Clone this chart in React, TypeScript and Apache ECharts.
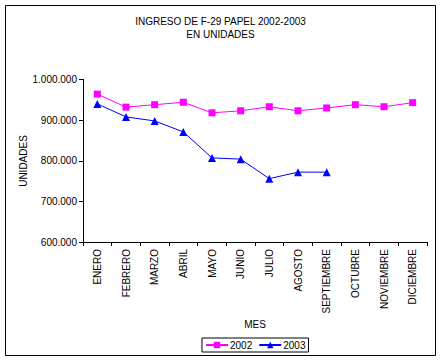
import React, { useEffect, useRef } from "react";
import * as echarts from "echarts";

const months = ["ENERO", "FEBRERO", "MARZO", "ABRIL", "MAYO", "JUNIO", "JULIO", "AGOSTO", "SEPTIEMBRE", "OCTUBRE", "NOVIEMBRE", "DICIEMBRE"];
const values2002 = [964000, 932000, 938000, 944000, 918000, 923000, 933000, 923000, 930000, 938000, 933000, 943000];
const values2003 = [940000, 908000, 898000, 871000, 807000, 804000, 756000, 772000, 772000, null, null, null];
const titleLines = ["INGRESO DE F-29 PAPEL 2002-2003", "EN UNIDADES"];
const yAxisName = "UNIDADES";
const xAxisName = "MES";

const FONT = "Liberation Sans, Arial, sans-serif";

function fmt(v: number): string {
  return String(Math.round(v)).replace(/\B(?=(\d{3})+(?!\d))/g, ".");
}

export default function App() {
  const ref = useRef<HTMLDivElement>(null);
  useEffect(() => {
    if (!ref.current) return;
    const chart = echarts.init(ref.current, null, { renderer: "svg" });
    chart.setOption({
      animation: false,
      backgroundColor: "#ffffff",
      textStyle: { fontFamily: FONT, color: "#000" },
      title: {
        text: titleLines.join("\n"),
        left: "center",
        top: 10,
        textStyle: { fontFamily: FONT, fontSize: 10, fontWeight: "normal", color: "#000", lineHeight: 13 },
      },
      graphic: [
        {
          type: "rect",
          shape: { x: 5.5, y: 5.5, width: 430, height: 350 },
          style: { fill: "none", stroke: "#000", lineWidth: 1 },
          silent: true,
        },
        {
          type: "text",
          x: 23,
          y: 161,
          rotation: Math.PI / 2,
          style: {
            text: yAxisName,
            fontFamily: FONT,
            fontSize: 10,
            fill: "#000",
            align: "center",
            verticalAlign: "middle",
          },
          silent: true,
        },
      ],
      legend: {
        left: 202,
        top: 338,
        itemWidth: 22,
        itemHeight: 8,
        itemGap: 6,
        padding: [2, 3, 2, 3],
        borderColor: "#000",
        borderWidth: 1,
        textStyle: { fontFamily: FONT, fontSize: 10, color: "#000", padding: [0, 0, 0, -3] },
        data: ["2002", "2003"],
      },
      grid: { left: 83, right: 14, top: 79.5, bottom: 120, containLabel: false },
      xAxis: {
        type: "category",
        data: months,
        name: xAxisName,
        nameLocation: "middle",
        nameGap: 77,
        nameTextStyle: { fontFamily: FONT, fontSize: 10, color: "#000" },
        axisLine: { lineStyle: { color: "#000", width: 1 } },
        axisTick: { show: true, length: 4, lineStyle: { color: "#000" } },
        axisLabel: { rotate: 90, fontFamily: FONT, fontSize: 10, color: "#000", margin: 7, interval: 0 },
        splitLine: { show: false },
      },
      yAxis: {
        type: "value",
        min: 600000,
        max: 1000000,
        interval: 100000,
        axisLine: { show: true, lineStyle: { color: "#000", width: 1 } },
        axisTick: { show: true, length: 4, lineStyle: { color: "#000" } },
        axisLabel: { fontFamily: FONT, fontSize: 10, color: "#000", margin: 6, formatter: (v: number) => fmt(v) },
        splitLine: { show: false },
      },
      series: [
        {
          name: "2002",
          type: "line",
          data: values2002,
          symbol: "rect",
          symbolSize: 7,
          itemStyle: { color: "#FF00FF" },
          lineStyle: { color: "#FF00FF", width: 1 },
        },
        {
          name: "2003",
          type: "line",
          data: values2003,
          symbol: "triangle",
          symbolSize: 8,
          itemStyle: { color: "#0000FF" },
          lineStyle: { color: "#0000FF", width: 1 },
        },
      ],
    });
    return () => chart.dispose();
  }, []);
  return <div ref={ref} style={{ position: "fixed", left: 0, top: 0, width: 441, height: 362 }} />;
}
